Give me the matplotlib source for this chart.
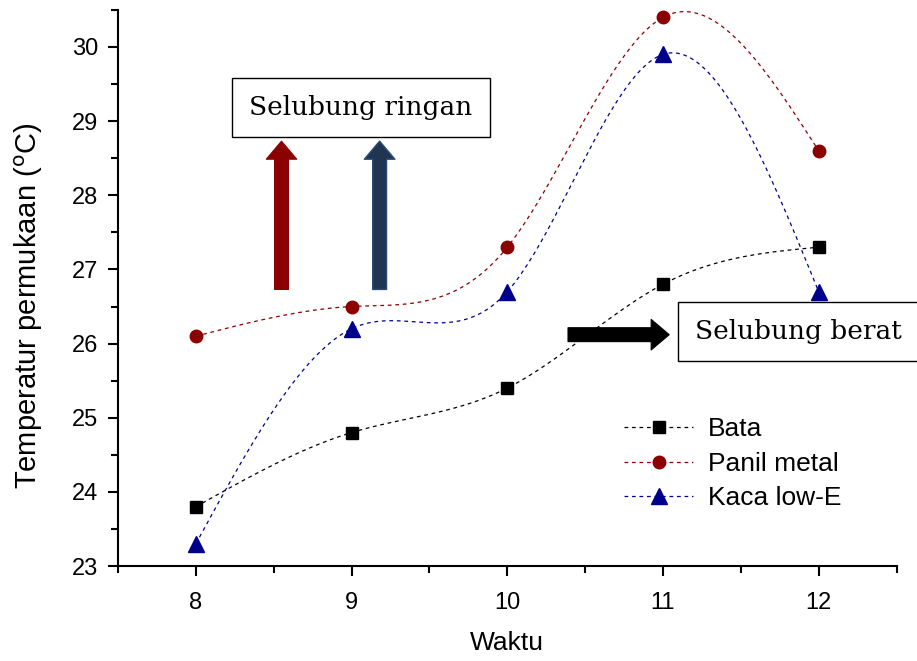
import matplotlib
matplotlib.use("Agg")
import matplotlib.pyplot as plt
import numpy as np
from matplotlib.patches import FancyArrowPatch
from matplotlib.ticker import MultipleLocator

# data
waktu = [8, 9, 10, 11, 12]
bata = [23.8, 24.8, 25.4, 26.8, 27.3]
panil_metal = [26.1, 26.5, 27.3, 30.4, 28.6]
kaca_low_e = [23.3, 26.2, 26.7, 29.9, 26.7]


def natural_spline(x, y, n=200):
    # smooth curve through points (natural cubic spline)
    x = np.asarray(x, float)
    y = np.asarray(y, float)
    k = len(x)
    h = np.diff(x)
    A = np.zeros((k, k))
    b = np.zeros(k)
    A[0, 0] = A[-1, -1] = 1
    for i in range(1, k - 1):
        A[i, i - 1] = h[i - 1]
        A[i, i] = 2 * (h[i - 1] + h[i])
        A[i, i + 1] = h[i]
        b[i] = 6 * ((y[i + 1] - y[i]) / h[i] - (y[i] - y[i - 1]) / h[i - 1])
    m = np.linalg.solve(A, b)
    xs = np.linspace(x[0], x[-1], n)
    idx = np.clip(np.searchsorted(x, xs) - 1, 0, k - 2)
    x0, x1 = x[idx], x[idx + 1]
    hh = x1 - x0
    t0, t1 = x1 - xs, xs - x0
    ys = (m[idx] * t0**3 / (6 * hh) + m[idx + 1] * t1**3 / (6 * hh)
          + (y[idx] / hh - m[idx] * hh / 6) * t0
          + (y[idx + 1] / hh - m[idx + 1] * hh / 6) * t1)
    return xs, ys


fig = plt.figure(figsize=(9.17, 6.61), dpi=100)
ax = fig.add_axes([0.1287, 0.1437, 0.849, 0.8413])

series = [
    ("Bata", bata, "black", "s", 8),
    ("Panil metal", panil_metal, "#8b0000", "o", 9),
    ("Kaca low-E", kaca_low_e, "#00008b", "^", 11),
]
for name, vals, col, mk, ms in series:
    xs, ys = natural_spline(waktu, vals)
    ax.plot(xs, ys, ls=(0, (3, 3)), color=col, lw=0.9)
    ax.plot(waktu, vals, ls="none", marker=mk, color=col, ms=ms)
    # legend proxy
    ax.plot([], [], ls=(0, (3, 3)), lw=0.9, color=col, marker=mk, ms=ms, label=name)

ax.set_xlim(7.5, 12.5)
ax.set_ylim(23, 30.5)
ax.xaxis.set_major_locator(MultipleLocator(1))
ax.xaxis.set_minor_locator(MultipleLocator(0.5))
ax.yaxis.set_major_locator(MultipleLocator(1))
ax.yaxis.set_minor_locator(MultipleLocator(0.5))
for s in ["top", "right"]:
    ax.spines[s].set_visible(False)
for s in ["left", "bottom"]:
    ax.spines[s].set_linewidth(1.5)
ax.tick_params(which="major", length=7, width=1.5, labelsize=17, pad=7)
ax.tick_params(axis="x", pad=12)
ax.tick_params(which="minor", length=5, width=1.5)
for lab in ax.get_xticklabels() + ax.get_yticklabels():
    lab.set_fontfamily("Liberation Sans")

ax.set_xlabel("Waktu", fontsize=19, family="Liberation Sans", labelpad=12)
ax.set_ylabel(r"Temperatur permukaan ($^{\mathrm{o}}$C)", fontsize=21,
              family="Liberation Sans")
ax.yaxis.set_label_coords(-0.094, 0.468)

leg = ax.legend(loc="upper left", bbox_to_anchor=(0.62, 0.31), frameon=False,
                handlelength=2.6, handletextpad=0.55,
                prop={"family": "Liberation Sans", "size": 19},
                labelspacing=0.4)

# arrows
def arrow(p0, p1, fc, ec, lw=0.8):
    a = FancyArrowPatch(p0, p1, mutation_scale=1, shrinkA=0, shrinkB=0,
                        arrowstyle="simple,head_length=13,head_width=22,tail_width=10",
                        fc=fc, ec=ec, lw=lw)
    ax.add_patch(a)

arrow((8.55, 26.73), (8.55, 28.73), "#8b0000", "#8b0000")
arrow((9.18, 26.73), (9.18, 28.73), "#1f3552", "#2c4c74", 1.0)
arrow((10.39, 26.12), (11.04, 26.12), "black", "black")

box = dict(boxstyle="square,pad=0.65", fc="white", ec="black", lw=1)
ax.text(9.06, 29.18, "Selubung ringan", fontsize=19, family="DejaVu Serif",
        ha="center", va="center", bbox=box)
ax.text(11.87, 26.16, "Selubung berat", fontsize=19, family="DejaVu Serif",
        ha="center", va="center", bbox=box, clip_on=False)

fig.savefig("out.png", dpi=100)
